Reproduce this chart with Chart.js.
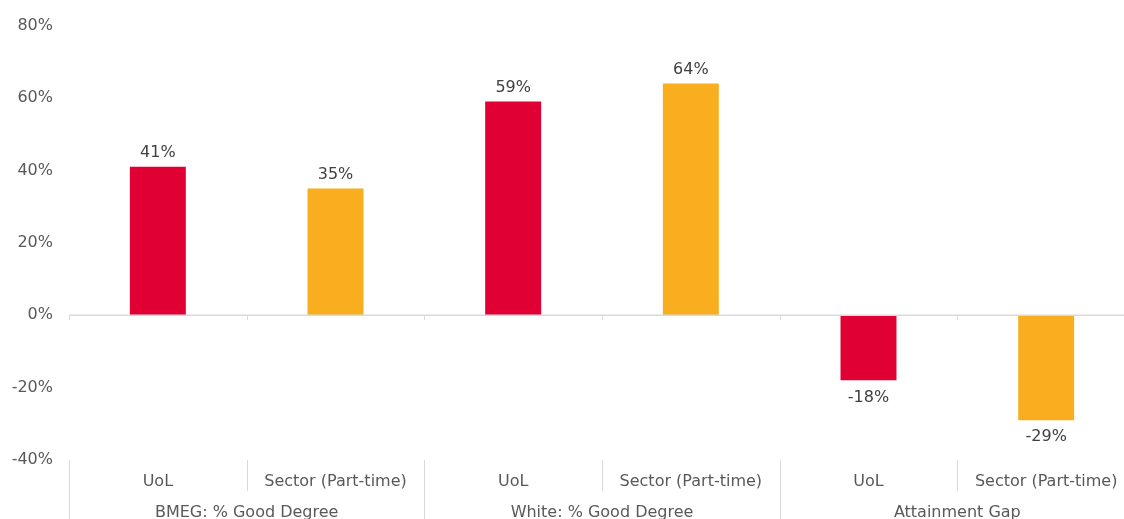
<!DOCTYPE html>
<html><head><meta charset="utf-8">
<script src="https://cdn.jsdelivr.net/npm/chart.js@4"></script>
<style>
html,body{margin:0;padding:0;background:#fff;overflow:hidden;}
#wrap{width:1140px;height:519px;position:relative;}
</style></head>
<body>
<div id="wrap"><canvas id="c"></canvas></div>
<script>
const categories = ["UoL","Sector (Part-time)","UoL","Sector (Part-time)","UoL","Sector (Part-time)"];
const groups = ["BMEG: % Good Degree","White: % Good Degree","Attainment Gap"];
const values = [41, 35, 59, 64, -18, -29];
const barColors = ["#E00034","#F8AE1E","#E00034","#F8AE1E","#E00034","#F8AE1E"];
const yTicks = [-40,-20,0,20,40,60,80];

const FONT = "'DejaVu Sans', Verdana, sans-serif";
const LINE = "#d9d9d9";
const TXT = "#595959";

const decor = {
  id:'decor',
  afterDatasetsDraw(chart){
    const ctx = chart.ctx, x = chart.scales.x, y = chart.scales.y, ca = chart.chartArea;
    const y0 = y.getPixelForValue(0);
    const n = categories.length;
    const w = (x.getPixelForValue(1) - x.getPixelForValue(0));
    ctx.save();
    ctx.strokeStyle = LINE; ctx.lineWidth = 1.5;
    ctx.beginPath(); ctx.moveTo(ca.left, y0); ctx.lineTo(ca.right, y0); ctx.stroke();
    ctx.lineWidth = 1;
    for(let i=0;i<=n;i++){
      const bx = Math.round(x.getPixelForValue(i) - w/2) + 0.5;
      ctx.beginPath(); ctx.moveTo(bx, y0); ctx.lineTo(bx, y0+5); ctx.stroke();
      const full = (i % 2 === 0);
      ctx.beginPath(); ctx.moveTo(bx, ca.bottom); ctx.lineTo(bx, full ? chart.height : ca.bottom + 31); ctx.stroke();
    }
    ctx.fillStyle = TXT; ctx.font = "16px " + FONT; ctx.textAlign='center'; ctx.textBaseline='middle';
    groups.forEach((g,gi)=>{
      const cx = (x.getPixelForValue(gi*2) + x.getPixelForValue(gi*2+1))/2;
      ctx.fillText(g, cx, ca.bottom + 53);
    });
    const meta = chart.getDatasetMeta(0);
    ctx.fillStyle = "#404040";
    meta.data.forEach((bar,i)=>{
      const v = values[i];
      const txt = v + "%";
      if(v >= 0){ ctx.textBaseline='bottom'; ctx.fillText(txt, bar.x, bar.y - 6); }
      else { ctx.textBaseline='top'; ctx.fillText(txt, bar.x, bar.y + 9); }
    });
    ctx.restore();
  }
};

new Chart(document.getElementById('c'), {
  type:'bar',
  data:{ labels:categories, datasets:[{ data:values, backgroundColor:barColors, barPercentage:0.315, categoryPercentage:1 }]},
  options:{
    responsive:true, maintainAspectRatio:false, animation:false,
    layout:{ padding:{ top:23, right:5, left:0, bottom:0 } },
    plugins:{ legend:{display:false}, tooltip:{enabled:false} },
    scales:{
      x:{
        grid:{ display:false, drawTicks:false }, border:{display:false},
        ticks:{ color:TXT, font:{family:FONT, size:16}, padding:12, maxRotation:0, autoSkip:false },
        afterFit(s){ s.height = 59; }
      },
      y:{
        min:-40, max:80,
        afterBuildTicks(s){ s.ticks = yTicks.map(v=>({value:v})); },
        grid:{ display:false, drawTicks:false }, border:{display:false},
        ticks:{ color:TXT, font:{family:FONT, size:16}, padding:16, callback:v=>v+"%" },
        afterFit(s){ s.width = 69; }
      }
    }
  },
  plugins:[decor]
});
</script>
</body></html>
